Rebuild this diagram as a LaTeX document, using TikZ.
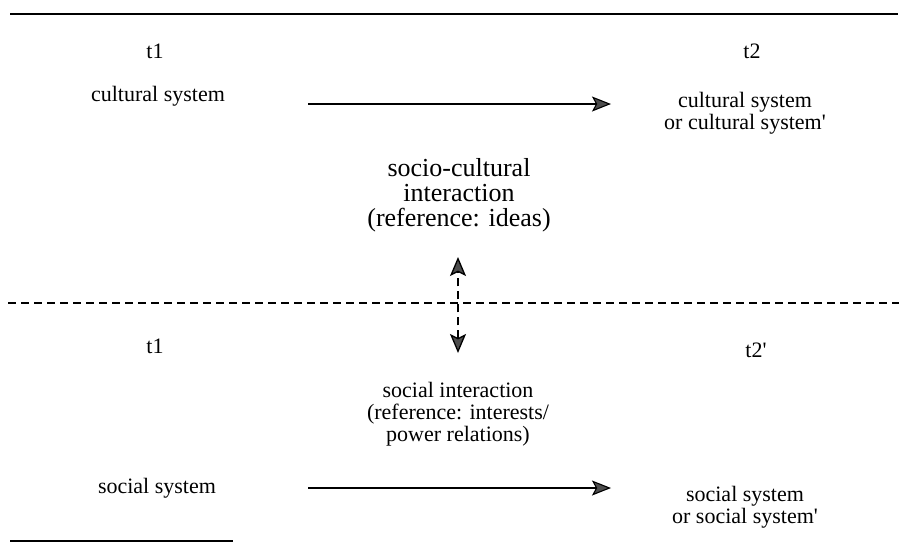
\documentclass[tikz,border=0pt]{standalone}
\usepackage{fontspec}
\setmainfont{Liberation Serif}
\usepackage{tikz}
\usetikzlibrary{arrows.meta, positioning, calc}

\begin{document}
\begin{tikzpicture}[
        x=1pt, y=-1pt,
        label/.style={align=center, inner sep=0pt, font=\fontsize{22}{22}\selectfont},
        biglabel/.style={label, font=\fontsize{26}{25}\selectfont},
        rule/.style={line width=1.2pt},
        flow/.style={line width=1.1pt, -{Stealth[length=19pt, width=15pt, inset=4pt, fill=black!70]}},
        link/.style={line width=1.3pt, dash pattern=on 8pt off 5pt, {Stealth[length=19pt, width=16pt, inset=4pt, fill=black!70]}-{Stealth[length=19pt, width=16pt, inset=4pt, fill=black!70]}}
    ]
    \useasboundingbox (0,0) rectangle (899,542);

    % Cultural level
    \draw[rule] (10,14) -- (898,14);
    \node[label] (T1c) at (155,51) {t1};
    \node[label] (T2c) at (752,51) {t2};
    \node[label] (CS1) at (158,96) {cultural system};
    \node[label] (CS2) at (745,113) {cultural system\\or cultural system\textquotesingle};
    \coordinate (c1) at (308,104);
    \coordinate (c2) at (611,104);
    \draw[flow] (c1) -- (c2);

    \node[biglabel] (SCI) at (459,195) {socio-cultural\\interaction\\(reference: ideas)};

    % Split between the two levels
    \draw[line width=1.2pt, dash pattern=on 8pt off 5pt] (8,303) -- (899,303);
    \coordinate (up) at (458,257);
    \coordinate (down) at (458,353);
    \draw[link] (down) -- (up);

    % Social level
    \node[label] (T1s) at (155,346) {t1};
    \node[label] (T2s) at (756,350) {t2\textquotesingle};
    \node[label] (SI) at (458,414) {social interaction\\(reference: interests/\\power relations)};
    \node[label] (SS1) at (157,488) {social system};
    \node[label] (SS2) at (745,507) {social system\\or social system\textquotesingle};
    \coordinate (s1) at (308,488);
    \coordinate (s2) at (611,488);
    \draw[flow] (s1) -- (s2);

    \draw[rule] (10,541) -- (233,541);

\end{tikzpicture}
\end{document}
